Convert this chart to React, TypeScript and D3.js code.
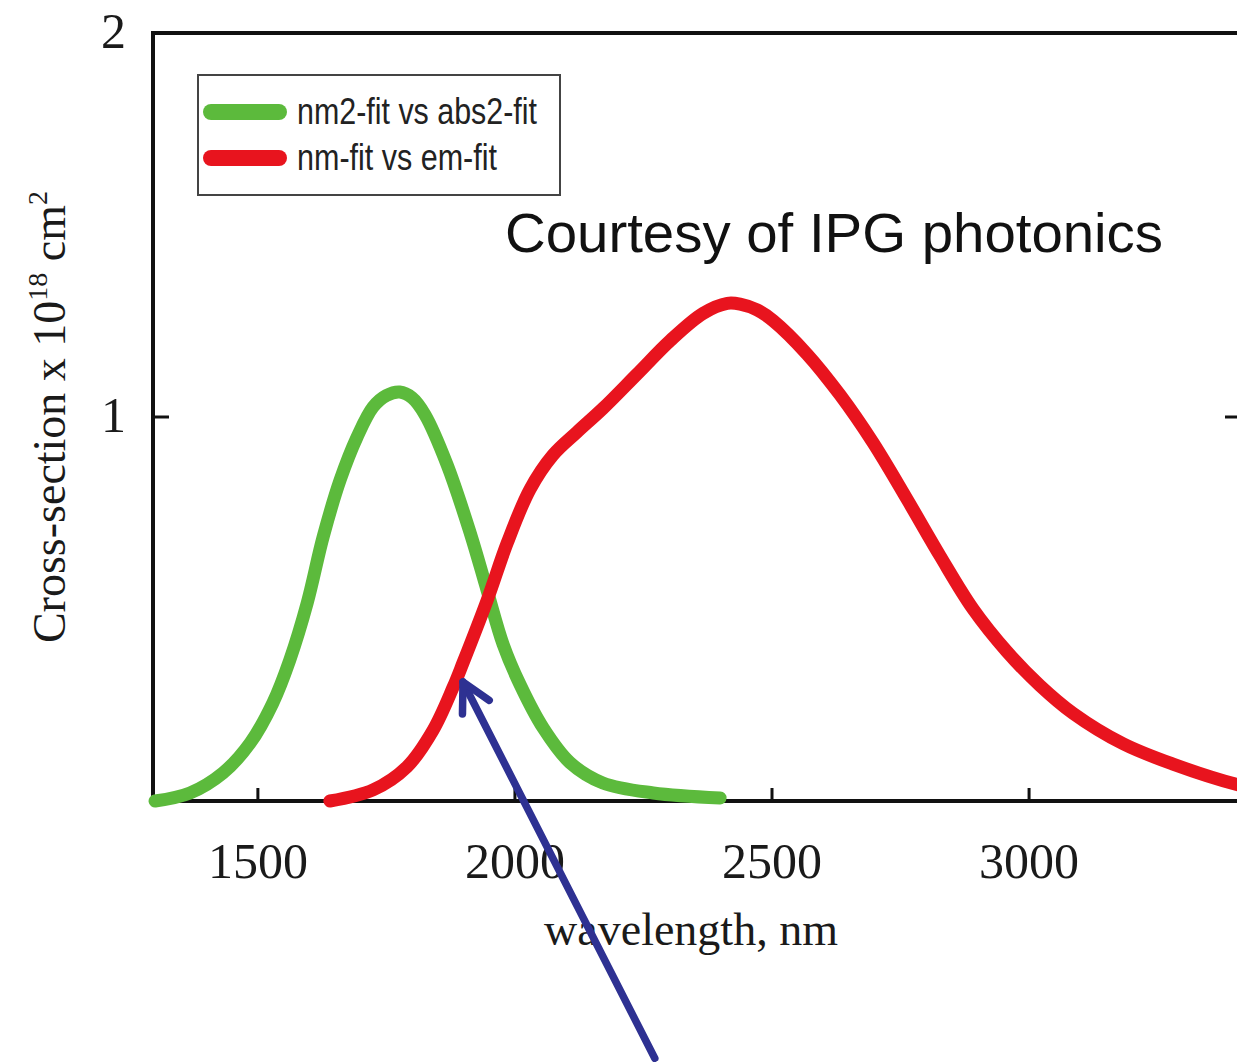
import React from "react";
import * as d3 from "d3";

const greenWl = [1300, 1368, 1432, 1485, 1529, 1562, 1596, 1627, 1660, 1693, 1724, 1750, 1776, 1800, 1825, 1868, 1913, 1946, 1977, 2010, 2055, 2107, 2171, 2269, 2399];
const greenVal = [0.0, 0.021, 0.073, 0.151, 0.255, 0.367, 0.516, 0.688, 0.836, 0.948, 1.026, 1.056, 1.065, 1.05, 1.006, 0.876, 0.698, 0.548, 0.408, 0.303, 0.19, 0.1, 0.047, 0.021, 0.008];

const redWl = [1640, 1724, 1790, 1841, 1880, 1899, 1946, 1985, 2029, 2074, 2121, 2171, 2237, 2302, 2366, 2413, 2438, 2471, 2502, 2568, 2632, 2696, 2763, 2827, 2891, 2957, 3021, 3086, 3183, 3280, 3404, 3430];
const redVal = [0.0, 0.029, 0.089, 0.185, 0.297, 0.36, 0.523, 0.672, 0.811, 0.901, 0.961, 1.022, 1.111, 1.199, 1.27, 1.296, 1.294, 1.279, 1.251, 1.164, 1.058, 0.934, 0.785, 0.638, 0.5, 0.389, 0.301, 0.228, 0.149, 0.096, 0.043, 0.036];

const xTicks = [1500, 2000, 2500, 3000];
const yTicks = [1, 2];
const seriesNames = ["nm2-fit vs abs2-fit", "nm-fit vs em-fit"];
const seriesColors = ["#5cba3c", "#e8141e"];
const arrowTip = [1899, 0.31];
const arrowTail = [2272, -0.67];

export default function App() {
  const W = 1237, H = 1062;
  const x = d3.scaleLinear().domain([1296, 3420]).range([153, 1245]);
  const y = d3.scaleLinear().domain([0, 2]).range([801, 33]);
  const line = d3
    .line<[number, number]>()
    .x((d) => x(d[0]))
    .y((d) => y(d[1]))
    .curve(d3.curveCatmullRom.alpha(0.5));
  const green = greenWl.map((w, i) => [w, greenVal[i]] as [number, number]);
  const red = redWl.map((w, i) => [w, redVal[i]] as [number, number]);

  const tx = x(arrowTip[0]), ty = y(arrowTip[1]);
  const ax = x(arrowTail[0]), ay = y(arrowTail[1]);
  const len = Math.hypot(ax - tx, ay - ty);
  const ux = (ax - tx) / len, uy = (ay - ty) / len;
  const arm = (ang: number) => {
    const a = (ang * Math.PI) / 180;
    const c = Math.cos(a), s = Math.sin(a);
    return [tx + 32 * (ux * c - uy * s), ty + 32 * (ux * s + uy * c)];
  };
  const a1 = arm(28), a2 = arm(-28);

  const serif = "'Liberation Serif', 'Times New Roman', serif";
  const sans = "'Liberation Sans', Arial, sans-serif";
  const legendLens = [240, 200];

  return (
    <svg width={W} height={H} style={{ position: "absolute", left: 0, top: 0, background: "#fff" }}>
      <rect x={0} y={0} width={W} height={H} fill="#fff" />
      {/* frame */}
      <line x1={x.range()[0]} x2={x.range()[0]} y1={y(2) - 2} y2={y(0) + 2} stroke="#111" strokeWidth={4} />
      <line x1={x.range()[0] - 2} x2={x.range()[1]} y1={y(2)} y2={y(2)} stroke="#111" strokeWidth={4} />
      <line x1={x.range()[0] - 2} x2={x.range()[1]} y1={y(0)} y2={y(0)} stroke="#111" strokeWidth={4} />
      <line x1={x.range()[1]} x2={x.range()[1]} y1={y(2)} y2={y(0)} stroke="#111" strokeWidth={4} />
      {/* x ticks */}
      {xTicks.map((t) => (
        <g key={t}>
          <line x1={x(t)} x2={x(t)} y1={y(0)} y2={y(0) - 13} stroke="#111" strokeWidth={3} />
          <text x={x(t)} y={y(0) + 77} textAnchor="middle" fontFamily={serif} fontSize={50} fill="#1a1a1a">
            {t}
          </text>
        </g>
      ))}
      {/* y ticks */}
      {yTicks.map((t) => (
        <g key={t}>
          {t < 2 && (
            <>
              <line x1={x.range()[0]} x2={x.range()[0] + 16} y1={y(t)} y2={y(t)} stroke="#111" strokeWidth={3} />
              <line x1={x.range()[1]} x2={x.range()[1] - 20} y1={y(t)} y2={y(t)} stroke="#111" strokeWidth={3} />
            </>
          )}
          <text x={126} y={y(t) + 15} textAnchor="end" fontFamily={serif} fontSize={50} fill="#1a1a1a">
            {t}
          </text>
        </g>
      ))}
      {/* axis labels */}
      <text x={691} y={945} textAnchor="middle" fontFamily={serif} fontSize={46} fill="#1a1a1a">
        wavelength, nm
      </text>
      <text
        transform={`translate(65, ${(y(0) + y(2)) / 2}) rotate(-90)`}
        textAnchor="middle"
        fontFamily={serif}
        fontSize={46}
        fill="#1a1a1a"
      >
        Cross-section x 10
        <tspan fontSize={28} dy={-18}>18</tspan>
        <tspan dy={18}> cm</tspan>
        <tspan fontSize={28} dy={-18}>2</tspan>
      </text>
      {/* curves */}
      <path d={line(green) || ""} fill="none" stroke={seriesColors[0]} strokeWidth={13} strokeLinecap="round" strokeLinejoin="round" />
      <path d={line(red) || ""} fill="none" stroke={seriesColors[1]} strokeWidth={13} strokeLinecap="round" strokeLinejoin="round" />
      {/* legend */}
      <rect x={198} y={75} width={362} height={120} fill="#fff" stroke="#444" strokeWidth={2} />
      {seriesNames.map((n, i) => (
        <g key={n}>
          <line x1={211} x2={279} y1={112 + i * 46} y2={112 + i * 46} stroke={seriesColors[i]} strokeWidth={16} strokeLinecap="round" />
          <text
            x={297}
            y={124 + i * 46}
            fontFamily={sans}
            fontSize={36}
            fill="#222"
            textLength={legendLens[i]}
            lengthAdjust="spacingAndGlyphs"
          >
            {n}
          </text>
        </g>
      ))}
      {/* annotation */}
      <text x={505} y={252} fontFamily={sans} fontSize={55} fill="#111" textLength={658} lengthAdjust="spacingAndGlyphs">
        Courtesy of IPG photonics
      </text>
      <line x1={ax} y1={ay} x2={tx} y2={ty} stroke="#2e3192" strokeWidth={7.5} strokeLinecap="round" />
      <polyline
        points={`${a1[0]},${a1[1]} ${tx},${ty} ${a2[0]},${a2[1]}`}
        fill="none"
        stroke="#2e3192"
        strokeWidth={7.5}
        strokeLinecap="round"
        strokeLinejoin="round"
      />
    </svg>
  );
}
